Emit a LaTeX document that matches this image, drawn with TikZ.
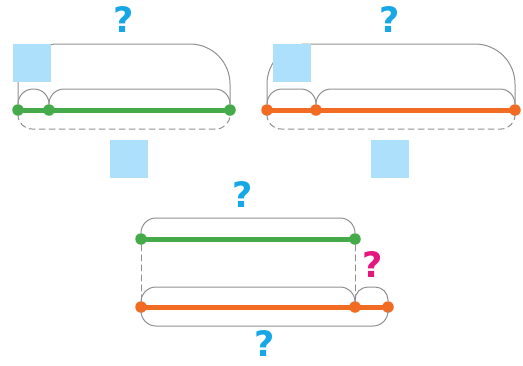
\documentclass[tikz,border=0pt]{standalone}
\usepackage{fontspec}
\setsansfont{DejaVu Sans}
\definecolor{segGreen}{HTML}{45AB4A}
\definecolor{segOrange}{HTML}{F26B22}
\definecolor{braceGray}{HTML}{909090}
\definecolor{qBlue}{HTML}{17A6E6}
\definecolor{qPink}{HTML}{E5177F}
\definecolor{boxBlue}{HTML}{ADE0FA}
\begin{document}
\begin{tikzpicture}[x=1pt,y=-1pt,line join=round,line cap=round,
	brc/.style={draw=braceGray,line width=1pt,rounded corners=#1},brc/.default=15,
	dbrc/.style={brc=#1,dash pattern=on 6pt off 4pt},dbrc/.default=14,
	gdot/.style={circle,fill=segGreen,inner sep=0pt,minimum size=11.5pt},
	odot/.style={circle,fill=segOrange,inner sep=0pt,minimum size=11.5pt},
	gline/.style={segGreen,line width=5pt},
	oline/.style={segOrange,line width=5pt},
	qmark/.style={text=qBlue,inner sep=0pt,font=\sffamily\bfseries\fontsize{35}{35}\selectfont},
	bluebox/.style={fill=boxBlue,minimum size=38pt,inner sep=0pt}]
	\useasboundingbox (0,0) rectangle (523,365);
	% top left: green segment
	\foreach \n/\x in {g1/18,g2/49,g3/230}\node[gdot] (\n) at (\x,110) {};
	\draw[brc=40] (g1) -- ++(0,-66) -| (g3);
	\draw[brc] (g1) -- ++(0,-21) -| (g2);
	\draw[brc] (g2) -- ++(0,-21) -| (g3);
	\draw[dbrc] (g1) -- ++(0,19) -| (g3);
	\draw[gline] (g1) -- (g3);
	\node[bluebox] (b1) at (32,63) {};
	\node[bluebox] (b2) at (129,159) {};
	\node[qmark] (q1) at (124,20) {?};
	% top right: orange segment
	\foreach \n/\x in {o1/267,o2/316,o3/515}\node[odot] (\n) at (\x,110) {};
	\draw[brc=40] (o1) -- ++(0,-66) -| (o3);
	\draw[brc] (o1) -- ++(0,-21) -| (o2);
	\draw[brc] (o2) -- ++(0,-21) -| (o3);
	\draw[dbrc] (o1) -- ++(0,19) -| (o3);
	\draw[oline] (o1) -- (o3);
	\node[bluebox] (b3) at (292,63) {};
	\node[bluebox] (b4) at (390,159) {};
	\node[qmark] (q2) at (390,20) {?};
	% bottom: comparison
	\foreach \n/\x in {g4/141,g5/355}\node[gdot] (\n) at (\x,239) {};
	\foreach \n/\x in {o4/141,o5/355,o6/388}\node[odot] (\n) at (\x,307) {};
	\draw[brc=15] (g4) -- ++(0,-21) -| (g5);
	\draw[dbrc] (g4) -- (o4);
	\draw[dbrc] (g5) -- (o5);
	\draw[brc=15] (o4) -- ++(0,-20) -| (o5);
	\draw[brc=13] (o5) -- ++(0,-20) -| (o6);
	\draw[brc=15] (o4) -- ++(0,19) -| (o6);
	\draw[gline] (g4) -- (g5);
	\draw[oline] (o4) -- (o6);
	\node[qmark] (q3) at (243,195) {?};
	\node[qmark,text=qPink] (q4) at (373,265) {?};
	\node[qmark] (q5) at (265,344) {?};
\end{tikzpicture}
\end{document}
